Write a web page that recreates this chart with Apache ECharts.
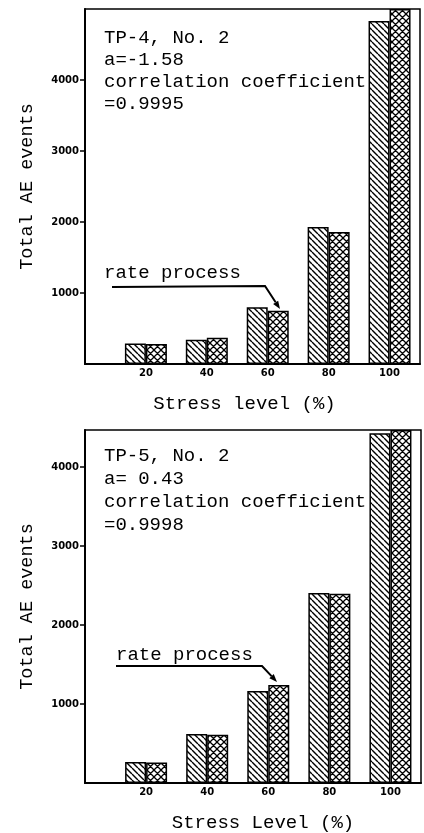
<!DOCTYPE html>
<html>
<head>
<meta charset="utf-8">
<script src="https://cdn.jsdelivr.net/npm/echarts@6/dist/echarts.min.js"></script>
<style>
  html, body { margin: 0; padding: 0; background: #fff; }
  #chart { width: 424px; height: 833px; }
</style>
</head>
<body>
<div id="chart"></div>
<script>
// stress level categories (%)
var stressLevels = [20, 40, 60, 80, 100];
// TP-4, No. 2 : measured (hatched) and rate process (cross-hatched)
var tp4Measured = [290, 340, 800, 1930, 4830];
var tp4Rate = [280, 370, 750, 1860, 5000];
// TP-5, No. 2
var tp5Measured = [265, 620, 1165, 2405, 4430];
var tp5Rate = [260, 610, 1240, 2395, 4470];
var yTicks = [1000, 2000, 3000, 4000];

function pair(xs, ys) {
  return xs.map(function (x, i) { return [x, ys[i]]; });
}

// hatch patterns
function makePattern(size, cross, lw) {
  var c = document.createElement("canvas");
  c.width = size;
  c.height = size;
  var ctx = c.getContext("2d");
  ctx.fillStyle = "#fff";
  ctx.fillRect(0, 0, size, size);
  ctx.strokeStyle = "#000";
  ctx.lineWidth = lw;
  ctx.beginPath();
  [-size, 0, size].forEach(function (k) {
    ctx.moveTo(k, 0);
    ctx.lineTo(k + size, size);
    if (cross) {
      ctx.moveTo(k, size);
      ctx.lineTo(k + size, 0);
    }
  });
  ctx.stroke();
  return c;
}
var hatch = { image: makePattern(6, false, 1.4), repeat: "repeat" };
var crossHatch = { image: makePattern(7, true, 1.3), repeat: "repeat" };

var mono = "Liberation Mono";
var tickFont = { fontFamily: "DejaVu Sans", fontWeight: "bold", fontSize: 10, color: "#000" };

function xAxisOf(grid, name, pad) {
  return {
    gridIndex: grid,
    type: "value",
    min: 0,
    max: 110,
    interval: 20,
    name: name,
    nameLocation: "middle",
    nameGap: 30,
    nameTextStyle: { fontFamily: mono, fontSize: 19, color: "#000", padding: pad },
    axisLine: { lineStyle: { color: "#000", width: 2 } },
    axisTick: { show: false },
    splitLine: { show: false },
    axisLabel: Object.assign({
      margin: 4,
      formatter: function (v) { return stressLevels.indexOf(v) >= 0 ? String(v) : ""; }
    }, tickFont)
  };
}

function yAxisOf(grid, max) {
  return {
    gridIndex: grid,
    type: "value",
    min: 0,
    max: max,
    interval: 1000,
    name: "Total AE events",
    nameLocation: "middle",
    nameGap: 48,
    nameTextStyle: { fontFamily: mono, fontSize: 18.5, color: "#000" },
    axisLine: { show: true, lineStyle: { color: "#000", width: 2 } },
    axisTick: { length: 5, customValues: yTicks, lineStyle: { color: "#000", width: 1.5 } },
    splitLine: { show: false },
    axisLabel: Object.assign({
      margin: 6,
      customValues: yTicks,
      formatter: function (v) { return String(v); }
    }, tickFont)
  };
}

function barSeries(axis, data, fill) {
  return {
    type: "bar",
    xAxisIndex: axis,
    yAxisIndex: axis,
    data: data,
    barWidth: 21,
    barGap: "0%",
    itemStyle: { color: fill, borderColor: "#000", borderWidth: 1.5 },
    emphasis: { disabled: true }
  };
}

function arrow(points) {
  var n = points.length;
  var t = points[n - 1], p = points[n - 2];
  var dx = t[0] - p[0], dy = t[1] - p[1];
  var len = Math.sqrt(dx * dx + dy * dy);
  var ux = dx / len, uy = dy / len;
  var bx = t[0] - 8 * ux, by = t[1] - 8 * uy;
  return [
    { type: "polyline", shape: { points: points.slice(0, n - 1).concat([[bx, by]]) },
      style: { stroke: "#000", lineWidth: 2, fill: null } },
    { type: "polygon", shape: { points: [t, [bx - 3 * uy, by + 3 * ux], [bx + 3 * uy, by - 3 * ux]] },
      style: { fill: "#000" } }
  ];
}

function note(x, y, lines, lh) {
  return {
    type: "text", left: x, top: y,
    style: { text: lines.join("\n"), fontFamily: mono, fontSize: 19, lineHeight: lh, fill: "#000" }
  };
}

var myChart = echarts.init(document.getElementById("chart"));
var option = {
  animation: false,
  backgroundColor: "#fff",
  grid: [
    { left: 85, top: 9, right: 4, height: 355, show: true, borderColor: "#000", borderWidth: 1.5 },
    { left: 85, top: 430, right: 2, height: 353, show: true, borderColor: "#000", borderWidth: 1.5 }
  ],
  xAxis: [
    xAxisOf(0, "Stress level (%)", [0, 16, 0, 0]),
    xAxisOf(1, "Stress Level (%)", [0, 0, 0, 20])
  ],
  yAxis: [yAxisOf(0, 5000), yAxisOf(1, 4470)],
  series: [
    barSeries(0, pair(stressLevels, tp4Measured), hatch),
    barSeries(0, pair(stressLevels, tp4Rate), crossHatch),
    barSeries(1, pair(stressLevels, tp5Measured), hatch),
    barSeries(1, pair(stressLevels, tp5Rate), crossHatch)
  ],
  graphic: [
    note(104, 27, ["TP-4, No. 2", "a=-1.58", "correlation coefficient", "=0.9995"], 22),
    note(104, 444, ["TP-5, No. 2", "a= 0.43", "correlation coefficient", "=0.9998"], 23),
    note(104, 263, ["rate process"], 20),
    note(116, 645, ["rate process"], 20)
  ]
    .concat(arrow([[112, 287], [265, 286], [280, 309]]))
    .concat(arrow([[116, 666], [262, 666], [277, 682]]))
};
myChart.setOption(option);
window.addEventListener("resize", function () {
  myChart.resize();
});
</script>
</body>
</html>
